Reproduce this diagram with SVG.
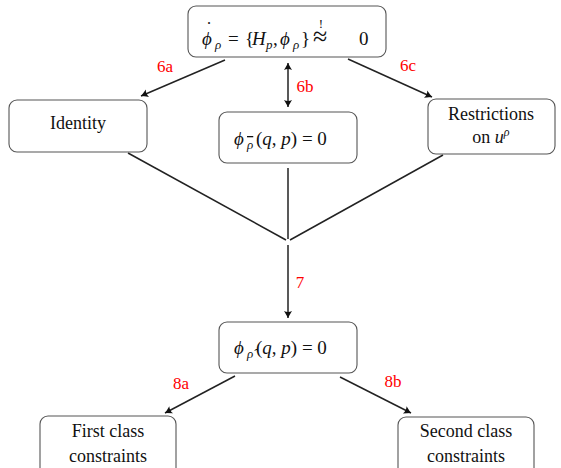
<svg xmlns="http://www.w3.org/2000/svg" width="561" height="468" viewBox="0 0 561 468">
<style>
.box{fill:#fff;stroke:#555;stroke-width:1.1}
text{font-family:'Liberation Serif','Tinos','Times New Roman','DejaVu Serif',serif}
.t{font-size:18px;fill:#111;text-anchor:middle}
.m{font-size:19px;fill:#111}
.i{font-style:italic}
.s{font-size:13px;font-style:italic}
.lbl{font-size:17px;fill:#ff0000;text-anchor:middle}
.c{stroke:#222;stroke-width:1.5;fill:none}
</style>
<defs>
<marker id="ah" viewBox="-8 -5 10 10" refX="0" refY="0" markerWidth="10" markerHeight="10" markerUnits="userSpaceOnUse" orient="auto-start-reverse">
<path d="M-7,-4 Q-2,-1 0,0 Q-2,1 -7,4 Q-5,0 -7,-4 z" fill="#111"/>
</marker>
</defs>
<g id="connectors">
<line class="c" x1="225" y1="60" x2="141" y2="96" marker-end="url(#ah)"/>
<line class="c" x1="348" y1="59" x2="432" y2="97" marker-end="url(#ah)"/>
<line class="c" x1="288" y1="63" x2="288" y2="107" marker-start="url(#ah)" marker-end="url(#ah)"/>
<line class="c" x1="128" y1="153" x2="286" y2="240"/>
<line class="c" x1="443" y1="155" x2="290" y2="240"/>
<line class="c" x1="288" y1="168" x2="288" y2="239"/>
<line class="c" x1="288" y1="245" x2="288" y2="318" marker-end="url(#ah)"/>
<line class="c" x1="235" y1="376" x2="165" y2="413" marker-end="url(#ah)"/>
<line class="c" x1="340" y1="377" x2="411" y2="413" marker-end="url(#ah)"/>
</g>
<g id="labels">
<text class="lbl" x="165" y="72">6a</text>
<text class="lbl" x="305" y="92">6b</text>
<text class="lbl" x="408" y="71">6c</text>
<text class="lbl" x="300" y="288">7</text>
<text class="lbl" x="181" y="389">8a</text>
<text class="lbl" x="393" y="387">8b</text>
</g>
<g id="top">
<rect class="box" x="188" y="6" width="198" height="51" rx="8"/>
<text class="m" y="45"><tspan class="i" x="202">ϕ</tspan><tspan class="s" x="215" dy="4">ρ</tspan><tspan x="228" dy="-4">=</tspan><tspan x="245">{</tspan><tspan class="i" x="252">H</tspan><tspan class="s" x="266" dy="4">p</tspan><tspan x="273" dy="-4">,</tspan><tspan class="i" x="280">ϕ</tspan><tspan class="s" x="293" dy="4">ρ</tspan><tspan x="301" dy="-4">}</tspan><tspan x="313" style="font-size:26px">≈</tspan><tspan x="359">0</tspan></text>
<text class="m" x="209" y="35" fill="#111" style="font-size:18px" text-anchor="middle">˙</text>
<text class="m" x="321" y="28" fill="#111" style="font-size:13px;fill:#111" text-anchor="middle">!</text>
</g>
<g id="identity">
<rect class="box" x="9" y="100" width="138" height="52" rx="8"/>
<text class="t" x="78" y="129">Identity</text>
</g>
<g id="phibar">
<rect class="box" x="219" y="112" width="138" height="51" rx="8"/>
<text class="m" y="145"><tspan class="i" x="234">ϕ</tspan><tspan class="s" x="247" dy="4" style="text-decoration:overline">ρ</tspan><tspan x="256" dy="-4">(</tspan><tspan class="i">q</tspan><tspan>, </tspan><tspan class="i">p</tspan><tspan>) = 0</tspan></text>
</g>
<g id="restrictions">
<rect class="box" x="428" y="99" width="127" height="55" rx="8"/>
<text class="t" x="491" y="120">Restrictions</text>
<text class="t" x="491" y="143">on <tspan class="i">u</tspan><tspan style="font-size:12px;font-style:italic" dy="-7">ρ</tspan></text>
</g>
<g id="phihat">
<rect class="box" x="219" y="322" width="138" height="51" rx="8"/>
<text class="m" y="354"><tspan class="i" x="234">ϕ</tspan><tspan class="s" x="247" dy="4">ρ̂</tspan><tspan x="256" dy="-4">(</tspan><tspan class="i">q</tspan><tspan>, </tspan><tspan class="i">p</tspan><tspan>) = 0</tspan></text>
</g>
<g id="firstclass">
<rect class="box" x="40" y="416" width="136" height="60" rx="8"/>
<text class="t" x="108" y="437">First class</text>
<text class="t" x="108" y="462">constraints</text>
</g>
<g id="secondclass">
<rect class="box" x="398" y="417" width="136" height="60" rx="8"/>
<text class="t" x="466" y="437">Second class</text>
<text class="t" x="466" y="462">constraints</text>
</g>
</svg>
